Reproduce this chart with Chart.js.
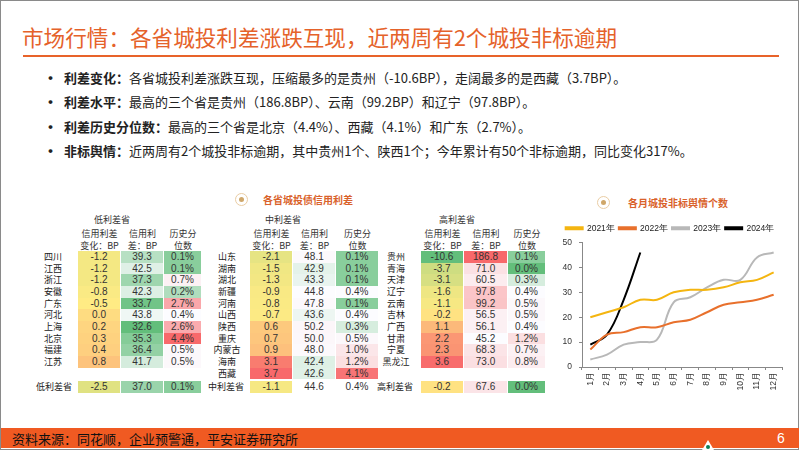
<!DOCTYPE html>
<html><head><meta charset="utf-8">
<script src="https://cdn.jsdelivr.net/npm/chart.js@4/dist/chart.umd.min.js"></script>
<style>
html,body{margin:0;padding:0;background:#fff;}
body{width:802px;height:451px;position:relative;overflow:hidden;font-family:"Noto Sans CJK SC","Noto Sans",sans-serif;color:#222;}
.abs{position:absolute;white-space:nowrap;}
#frame{position:absolute;left:0;top:0;width:797px;height:448px;border:1px solid #8a8a8a;}
#title{left:22px;top:24px;font-size:21.6px;line-height:26px;color:#E5622A;}
#uline{left:23px;top:55px;width:756px;height:2px;background:#E8632A;}
.bul{font-size:13px;line-height:18px;}
.dot{font-size:15px;line-height:18px;font-weight:bold;}
.cell{position:absolute;text-align:center;font-family:"Liberation Sans",Arial,sans-serif;font-size:10px;color:#333;}
.nm{position:absolute;text-align:center;font-size:9px;color:#222;}
.hd{position:absolute;text-align:center;font-size:9px;color:#333;}
.icon{position:absolute;width:13px;height:13px;border:1.5px solid #EACDA4;border-radius:50%;box-sizing:border-box;}
.icon i{position:absolute;left:2.5px;top:2.5px;width:5px;height:5px;border-radius:50%;background:#CFA76A;}
.sec{font-size:10px;color:#D9622B;font-weight:bold;line-height:12px;}
#foot{left:1px;top:428px;width:798px;height:20px;background:#F05A22;}
#src{left:12px;top:431px;font-size:13px;line-height:16px;color:#111;}
#pg{left:777px;top:430px;font-size:14px;line-height:17px;color:#fff;font-family:"Liberation Sans",Arial,sans-serif;}
#logo{left:702px;top:440px;width:0;height:0;border-left:6px solid transparent;border-right:6px solid transparent;border-bottom:10px solid #fff;}
#logodot{left:706px;top:445px;width:4px;height:4px;border-radius:50%;background:#0B7F5A;}
#chartBox{position:absolute;left:558px;top:220px;width:242px;height:175px;}
</style></head>
<body>
<div id="frame"></div>
<div class="abs" id="title">市场行情：各省城投利差涨跌互现，近两周有2个城投非标逾期</div>
<div class="abs" id="uline"></div>

<div id="bullets"></div>
<div id="tables"></div>

<div class="icon" style="left:235px;top:193px;"><i></i></div>
<div class="abs sec" style="left:263px;top:194px;">各省城投债信用利差</div>
<div class="icon" style="left:597px;top:196px;"><i></i></div>
<div class="abs sec" style="left:628px;top:197px;">各月城投非标舆情个数</div>

<div id="chartBox"><canvas id="c" width="242" height="175"></canvas></div>

<div class="abs" id="foot"></div>
<div class="abs" id="src">资料来源：同花顺，企业预警通，平安证券研究所</div>
<div class="abs" id="pg">6</div>
<div class="abs" id="logo"></div>
<div class="abs" id="logodot"></div>

<script>
// ---------------- DATA ----------------
const bulletLabels = ['利差变化：', '利差水平：', '利差历史分位数：', '非标舆情：'];
const bulletTexts = [
  '各省城投利差涨跌互现，压缩最多的是贵州（-10.6BP），走阔最多的是西藏（3.7BP）。',
  '最高的三个省是贵州（186.8BP）、云南（99.2BP）和辽宁（97.8BP）。',
  '最高的三个省是北京（4.4%）、西藏（4.1%）和广东（2.7%）。',
  '近两周有2个城投非标逾期，其中贵州1个、陕西1个；今年累计有50个非标逾期，同比变化317%。'
];

const colHeaders1 = ['信用利差', '信用利', '历史分'];
const colHeaders2 = ['变化：BP', '差：BP', '位数'];

const lowTitle = '低利差省';
const lowNames = ['四川','江西','浙江','安徽','广东','河北','上海','北京','福建','江苏'];
const lowChg = [-1.2,-1.2,-1.2,-0.8,-0.5,0.0,0.2,0.3,0.4,0.8];
const lowSpread = [39.3,42.5,37.3,42.3,33.7,43.8,32.6,35.3,36.4,41.7];
const lowPct = [0.1,0.1,0.7,0.2,2.7,0.4,2.6,4.4,0.5,0.5];
const lowSummary = [-2.5, 37.0, 0.1];

const midTitle = '中利差省';
const midNames = ['山东','湖南','湖北','新疆','河南','山西','陕西','重庆','内蒙古','海南','西藏'];
const midChg = [-2.1,-1.5,-1.3,-0.9,-0.8,-0.7,0.6,0.7,0.9,3.1,3.7];
const midSpread = [48.1,42.9,43.3,44.8,47.8,43.6,50.2,50.0,48.0,42.4,42.6];
const midPct = [0.1,0.1,0.1,0.4,0.1,0.4,0.3,0.5,1.0,1.2,4.1];
const midSummary = [-1.1, 44.6, 0.4];

const highTitle = '高利差省';
const highNames = ['贵州','青海','天津','辽宁','云南','吉林','广西','甘肃','宁夏','黑龙江'];
const highChg = [-10.6,-3.7,-3.1,-1.6,-1.1,-0.2,1.1,2.2,2.3,3.6];
const highSpread = [186.8,71.0,60.5,97.8,99.2,56.5,56.1,45.2,68.3,73.0];
const highPct = [0.1,0.0,0.3,0.4,0.5,0.5,0.4,1.2,0.7,0.8];
const highSummary = [-0.2, 67.6, 0.0];

const months = ['1月','2月','3月','4月','5月','6月','7月','8月','9月','10月','11月','12月'];
const yearLabels = ['2021年','2022年','2023年','2024年'];
const s2021 = [20,22,24,27,27,30,31,31,32,34,35,38];
const s2022 = [7,13,14,16,16,18,19,22,25,26,27,29];
const s2023 = [3,5,9,10,11,26,28,32,35,35,44,46];
const s2024 = [9,13,27,46];

// ---------------- BULLETS ----------------
const bulletY = [69, 93, 118, 142];
const bWrap = document.getElementById('bullets');
bulletLabels.forEach((lab, i) => {
  const d = document.createElement('div');
  d.className = 'abs dot'; d.style.left = '43px'; d.style.top = bulletY[i] + 'px'; d.textContent = '•';
  bWrap.appendChild(d);
  const t = document.createElement('div');
  t.className = 'abs bul'; t.style.left = '64px'; t.style.top = bulletY[i] + 'px';
  t.innerHTML = '<b>' + lab + '</b>' + bulletTexts[i];
  bWrap.appendChild(t);
});

// ---------------- COLOR SCALES ----------------
function median(a){const s=[...a].sort((x,y)=>x-y);const n=s.length;return n%2?s[(n-1)/2]:(s[n/2-1]+s[n/2])/2;}
function mix(c1,c2,t){return 'rgb('+c1.map((v,k)=>Math.round(v+(c2[k]-v)*t)).join(',')+')';}
const GREEN=[99,190,123], YELLOW=[255,235,132], RED=[248,105,107], WHITE=[252,252,255];
function makeScale(vals, midC){
  const mn=Math.min(...vals), mx=Math.max(...vals), md=median(vals);
  return v => v<=md ? mix(GREEN, midC, mn===md?1:(v-mn)/(md-mn)) : mix(midC, RED, (v-md)/(mx-md));
}
const scChg = makeScale([...lowChg,...midChg,...highChg], YELLOW);
const scSpr = makeScale([...lowSpread,...midSpread,...highSpread], WHITE);
const scPct = makeScale([...lowPct,...midPct,...highPct], WHITE);

// ---------------- TABLES ----------------
const tWrap = document.getElementById('tables');
function el(cls, txt, x, y, w, h, bg){
  const d=document.createElement('div'); d.className=cls; d.textContent=txt;
  d.style.left=x+'px'; d.style.top=y+'px'; d.style.width=w+'px'; d.style.height=h+'px';
  d.style.lineHeight=h+'px'; if(bg) d.style.background=bg; tWrap.appendChild(d); return d;
}
const ROW0=251, RH=11.67, SUMY=380.5;
function drawTable(layout, title, names, chg, spr, pct, summary, summaryFill){
  const {nameX, colX, colW, titleX, sumX} = layout;
  el('hd', title, titleX-30, 214, 60, 12);
  for(let c=0;c<3;c++){
    el('hd', colHeaders1[c], colX[c]-4, 227.5, colW[c]+8, 11);
    el('hd', colHeaders2[c], colX[c]-4, 240, colW[c]+8, 11);
  }
  names.forEach((n,i)=>{
    const y = ROW0 + i*RH;
    el('nm', n, nameX-22, y, 44, RH);
    el('cell', chg[i].toFixed(1), colX[0], y, colW[0]-1, RH, scChg(chg[i]));
    el('cell', spr[i].toFixed(1), colX[1], y, colW[1]-1, RH, scSpr(spr[i]));
    el('cell', pct[i].toFixed(1)+'%', colX[2], y, colW[2]-1, RH, scPct(pct[i]));
  });
  el('nm', title, sumX-24, SUMY, 48, 12);
  el('cell', summary[0].toFixed(1), colX[0], SUMY, colW[0]-1, 12, scChg(summary[0]));
  el('cell', summary[1].toFixed(1), colX[1], SUMY, colW[1]-1, 12, summaryFill ? scSpr(summary[1]) : null);
  el('cell', summary[2].toFixed(1)+'%', colX[2], SUMY, colW[2]-1, 12, summaryFill ? scPct(summary[2]) : null);
}
drawTable({nameX:53, colX:[78,121,164], colW:[43,43,38], titleX:112, sumX:54}, lowTitle, lowNames, lowChg, lowSpread, lowPct, lowSummary, true);
drawTable({nameX:227, colX:[250,293,336], colW:[43,43,43], titleX:283, sumX:226}, midTitle, midNames, midChg, midSpread, midPct, midSummary, false);
drawTable({nameX:396, colX:[421,464,508], colW:[43,44,38], titleX:457, sumX:395}, highTitle, highNames, highChg, highSpread, highPct, highSummary, true);

// ---------------- CHART ----------------
const tickFont = {family:'"Liberation Sans", Arial, sans-serif', size:8.5};
new Chart(document.getElementById('c'), {
  type:'line',
  data:{
    labels: months,
    datasets:[
      {label:yearLabels[0], data:s2021, borderColor:'#F4B510', backgroundColor:'#F4B510'},
      {label:yearLabels[1], data:s2022, borderColor:'#E8702C', backgroundColor:'#E8702C'},
      {label:yearLabels[2], data:s2023, borderColor:'#B8B8B8', backgroundColor:'#B8B8B8'},
      {label:yearLabels[3], data:s2024, borderColor:'#000000', backgroundColor:'#000000'}
    ].map(d=>Object.assign(d,{borderWidth:2, pointRadius:0, tension:0.4, fill:false}))
  },
  options:{
    responsive:false, animation:false, devicePixelRatio:1,
    layout:{padding:{left:0, right:18, top:0, bottom:0}},
    plugins:{
      legend:{position:'top', align:'center',
        labels:{boxWidth:17, boxHeight:2, padding:4, font:{family:'"Liberation Sans", Arial, sans-serif', size:8.5}, color:'#222'}},
      tooltip:{enabled:false}
    },
    scales:{
      x:{offset:true,
        grid:{display:true, drawOnChartArea:false, drawTicks:true, tickLength:3, offset:true, color:'#888'},
        border:{display:true, color:'#888'},
        ticks:{font:tickFont, color:'#333', minRotation:90, maxRotation:90, padding:2, autoSkip:false},
        afterFit(s){ s.height = 28; }
      },
      y:{min:0, max:50,
        grid:{display:true, drawOnChartArea:false, drawTicks:true, tickLength:3, color:'#888'},
        border:{display:true, color:'#888'},
        ticks:{stepSize:5, font:tickFont, color:'#333', padding:7},
        afterFit(s){ s.width = 24; }
      }
    }
  }
});
</script>
</body></html>
